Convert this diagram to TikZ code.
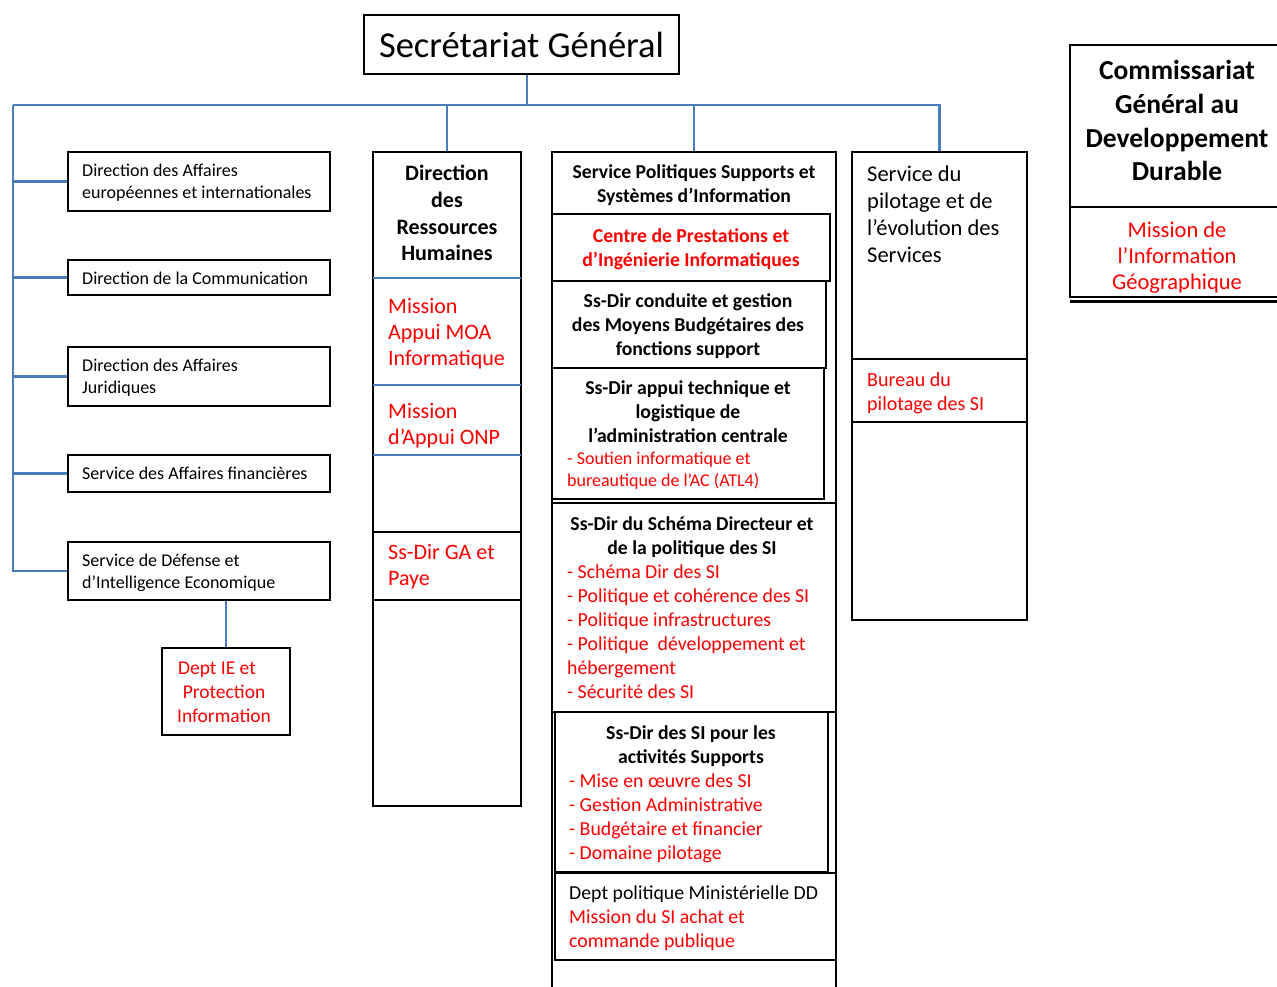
\documentclass[tikz,border=0pt]{standalone}
\usepackage{fontspec}
\setmainfont{Carlito}
\usetikzlibrary{fit}
\definecolor{orgblue}{HTML}{4A7EBB}
\definecolor{orgred}{HTML}{FF0000}
\newcommand{\fs}[2]{\fontsize{#1}{#2}\selectfont}
\begin{document}
\begin{tikzpicture}[x=1pt,y=-1pt,
  box/.style={draw=black, line width=2.4pt, inner sep=0pt},
  conn/.style={draw=orgblue, line width=2.6pt},
  sepblue/.style={draw=orgblue, line width=2.4pt},
  sepblack/.style={draw=black, line width=2.4pt},
  txt/.style={inner sep=0pt, anchor=north west, align=left},
  ctxt/.style={inner sep=0pt, anchor=north, align=center},
  redtxt/.style={text=orgred}]
\useasboundingbox (0,0) rectangle (1277,986);
\clip (0,0) rectangle (1277,986);
\fill[white] (0,0) rectangle (1277,986);

% top
\node[box, minimum width=315, minimum height=59, font=\fs{36.5}{42}] (sg) at (521.5,44.5) {Secrétariat Général};
\coordinate (bus) at (527,105);
\coordinate (busL) at (13,105);

% left column
\node[box, fit={(68,152) (330,211)}] (dae) {};
\node[box, fit={(68,260) (330,295)}] (dcom) {};
\node[box, fit={(68,347) (330,406)}] (daj) {};
\node[box, fit={(68,455) (330,492)}] (saf) {};
\node[box, fit={(68,542) (330,600)}] (sdie) {};
\node[box, fit={(162,648) (290,735)}] (deptie) {};

\node[txt, font=\fs{18}{22}] (tdae) at (82,160.9) {\strut Direction des Affaires\\européennes et internationales};
\node[txt, font=\fs{18}{22}] (tdcom) at (82,268.9) {\strut Direction de la Communication};
\node[txt, font=\fs{18}{22}] (tdaj) at (82,355.9) {\strut Direction des Affaires\\Juridiques};
\node[txt, font=\fs{18}{22}] (tsaf) at (82,463.9) {\strut Service des Affaires financières};
\node[txt, font=\fs{18}{22}] (tsdie) at (82,550.9) {\strut Service de Défense et\\d’Intelligence Economique};
\node[ctxt, redtxt, font=\fs{19.5}{24}] (tdeptie) at (224,657) {\strut Dept IE et\hspace*{14pt}\\Protection\\Information};

% DRH column
\node[box, fit={(373,152) (521,806)}] (drh) {};
\node[box, fit={(373,532) (521,600)}] (ga) {};
\draw[sepblue] (373,278) -- (521,278);
\draw[sepblue] (373,385) -- (521,385);
\draw[sepblue] (373,455) -- (521,455);
\node[ctxt, font=\bfseries\fs{22}{26.7}] (tdrh) at (447,162) {\strut Direction\\des\\Ressources\\Humaines};
\node[txt, redtxt, font=\fs{22}{26}] (tmoa) at (388,295.5) {\strut Mission\\Appui MOA\\Informatique};
\node[txt, redtxt, font=\fs{22}{26}] (tonp) at (388,400.5) {\strut Mission\\d’Appui ONP};
\node[txt, redtxt, font=\fs{22}{26}] (tga) at (388,541.5) {\strut Ss-Dir GA et\\Paye};

% SPSSI column
\node[box, fit={(552,152) (836,1000)}] (spssi) {};
\node[box, fit={(552,214) (830,281)}] (cpii) {};
\node[box, fit={(552,281) (826,368)}] (conduite) {};
\node[box, fit={(552,368) (824,499)}] (appui) {};
\node[box, fit={(552,503) (836,712)}] (schema) {};
\node[box, fit={(555,712) (828,872)}] (sipour) {};
\node[box, fit={(555,873) (836,960)}] (deptpol) {};

\node[ctxt, font=\bfseries\fs{19.7}{24}] (tspssi) at (694,161.1) {\strut Service Politiques Supports et\\Systèmes d’Information};
\node[ctxt, redtxt, font=\bfseries\fs{19.7}{24}] (tcpii) at (691,225.1) {\strut Centre de Prestations et\\d’Ingénierie Informatiques};
\node[ctxt, font=\bfseries\fs{19.7}{24}] (tconduite) at (688,290.1) {\strut Ss-Dir conduite et gestion\\des Moyens Budgétaires des\\fonctions support};
\node[ctxt, font=\bfseries\fs{19.7}{24}] (tappui) at (688,377.1) {\strut Ss-Dir appui technique et\\logistique de\\l’administration centrale};
\node[txt, redtxt, font=\fs{18}{22}] (tappuir) at (567,448.9) {\strut - Soutien informatique et\\bureautique de l’AC (ATL4)};
\node[ctxt, font=\bfseries\fs{19.7}{24}] (tschema) at (692,513.1) {\strut Ss-Dir du Schéma Directeur et\\de la politique des SI};
\node[txt, redtxt, font=\fs{19.8}{24}] (tschemar) at (567,561.1) {\strut - Schéma Dir des SI\\- Politique et cohérence des SI\\- Politique infrastructures\\- Politique\ \ développement et\\hébergement\\- Sécurité des SI};
\node[ctxt, font=\bfseries\fs{19.7}{24}] (tsipour) at (691,722.1) {\strut Ss-Dir des SI pour les\\activités Supports};
\node[txt, redtxt, font=\fs{19.8}{24}] (tsipourr) at (569,770.1) {\strut - Mise en œuvre des SI\\- Gestion Administrative\\- Budgétaire et financier\\- Domaine pilotage};
\node[txt, font=\fs{19.8}{24}] (tdeptpol) at (569,882.1) {\strut Dept politique Ministérielle DD\\\textcolor{orgred}{Mission du SI achat et}\\\textcolor{orgred}{commande publique}};

% pilotage column
\node[box, fit={(852,152) (1027,620)}] (pil) {};
\node[box, fit={(852,359) (1027,422)}] (bureau) {};
\node[txt, font=\fs{22.5}{27}] (tpil) at (867,162) {\strut Service du\\pilotage et de\\l’évolution des\\Services};
\node[txt, redtxt, font=\fs{20}{24}] (tbureau) at (867,369.2) {\strut Bureau du\\pilotage des SI};

% CGDD
\node[box, fit={(1070,45) (1300,297)}] (cgdd) {};
\coordinate (cgddA) at (1070,207);
\coordinate (cgddB) at (1300,207);
\coordinate (cgddC) at (1070,301.5);
\coordinate (cgddD) at (1300,301.5);
\draw[sepblack] (cgddA) -- (cgddB);
\draw[sepblack] (cgddC) -- (cgddD);
\node[ctxt, font=\bfseries\fs{27.5}{33.7}] (tcgdd) at (1177,56) {\strut Commissariat\\Général au\\Developpement\\Durable};
\node[ctxt, redtxt, font=\fs{22.5}{26}] (tmig) at (1177,218.7) {\strut Mission de\\l’Information\\Géographique};

% connectors
\draw[conn] (bus |- sg.south) -- (bus);
\draw[conn] (busL) -- (pil.north |- busL) -- (pil.north);
\draw[conn] (busL) |- (sdie.west);
\draw[conn] (busL |- dae.west) -- (dae.west);
\draw[conn] (busL |- dcom.west) -- (dcom.west);
\draw[conn] (busL |- daj.west) -- (daj.west);
\draw[conn] (busL |- saf.west) -- (saf.west);
\draw[conn] (drh.north |- busL) -- (drh.north);
\draw[conn] (spssi.north |- busL) -- (spssi.north);
\draw[conn] (deptie.north |- sdie.south) -- (deptie.north);
\end{tikzpicture}
\end{document}
